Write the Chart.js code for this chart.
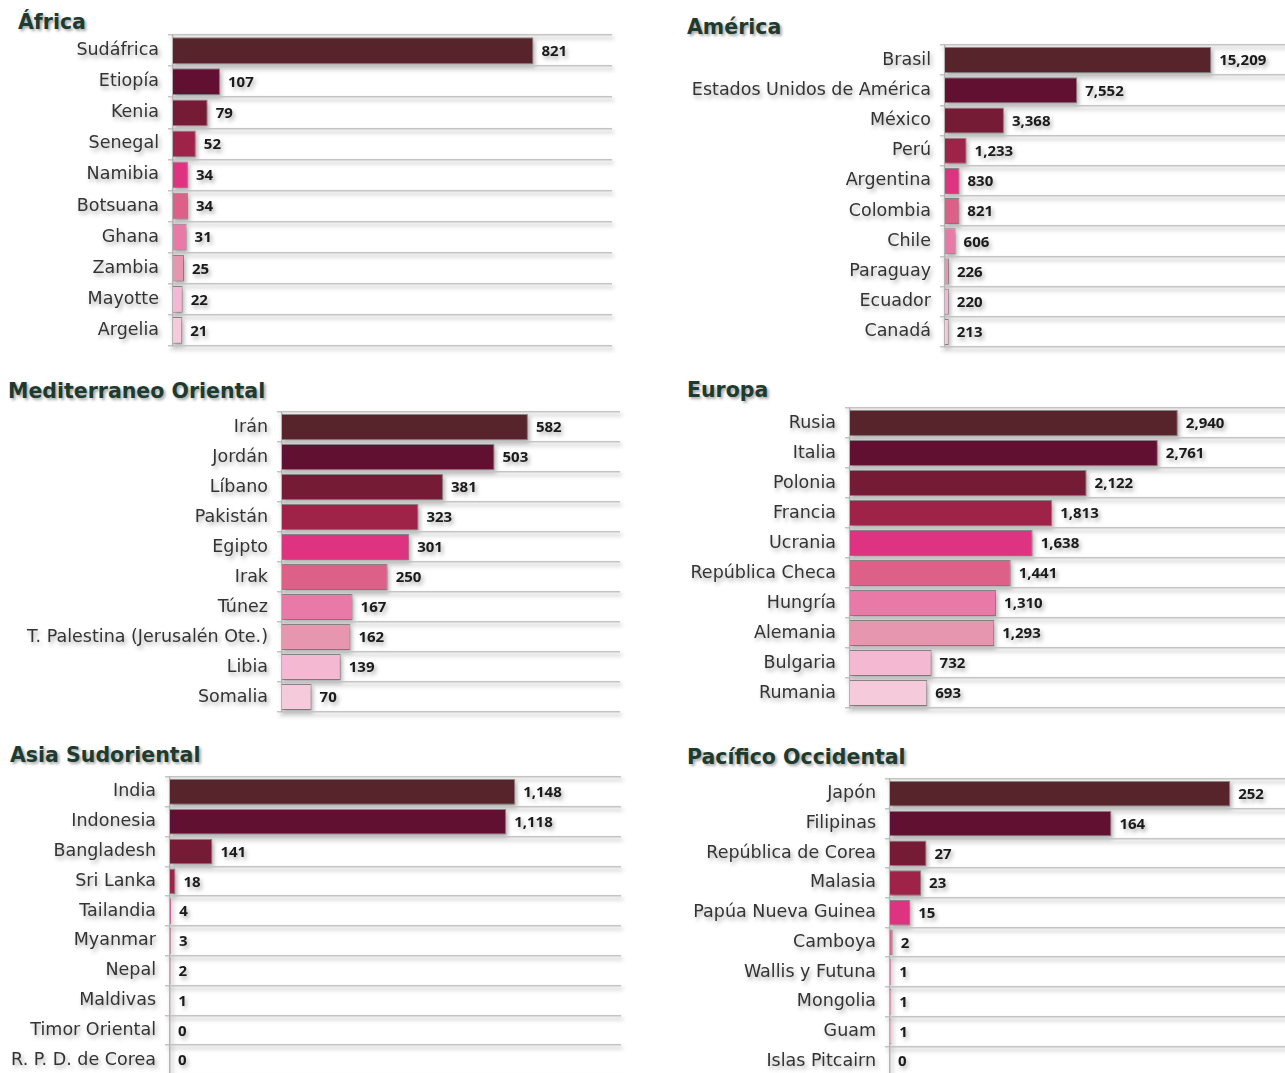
<!DOCTYPE html>
<html>
<head>
<meta charset="utf-8">
<script src="https://cdn.jsdelivr.net/npm/chart.js@4/dist/chart.umd.min.js"></script>
<style>
html,body{margin:0;padding:0;background:#fff;width:1285px;height:1073px;overflow:hidden;position:relative}
.ttl{position:absolute;font:bold 20.5px "DejaVu Sans";color:#1d3b2f;text-shadow:2px 2px 3px rgba(0,0,0,.35);white-space:nowrap;line-height:26px}
canvas{position:absolute;filter:drop-shadow(2px 3px 2px rgba(0,0,0,.32))}
</style>
</head>
<body>
<script>
// casos por región
const africaPaises = ['Sudáfrica','Etiopía','Kenia','Senegal','Namibia','Botsuana','Ghana','Zambia','Mayotte','Argelia'];
const africaCasos = [821,107,79,52,34,34,31,25,22,21];

const americaPaises = ['Brasil','Estados Unidos de América','México','Perú','Argentina','Colombia','Chile','Paraguay','Ecuador','Canadá'];
const americaCasos = [15209,7552,3368,1233,830,821,606,226,220,213];

const medPaises = ['Irán','Jordán','Líbano','Pakistán','Egipto','Irak','Túnez','T. Palestina (Jerusalén Ote.)','Libia','Somalia'];
const medCasos = [582,503,381,323,301,250,167,162,139,70];

const europaPaises = ['Rusia','Italia','Polonia','Francia','Ucrania','República Checa','Hungría','Alemania','Bulgaria','Rumania'];
const europaCasos = [2940,2761,2122,1813,1638,1441,1310,1293,732,693];

const asiaPaises = ['India','Indonesia','Bangladesh','Sri Lanka','Tailandia','Myanmar','Nepal','Maldivas','Timor Oriental','R. P. D. de Corea'];
const asiaCasos = [1148,1118,141,18,4,3,2,1,0,0];

const pacificoPaises = ['Japón','Filipinas','República de Corea','Malasia','Papúa Nueva Guinea','Camboya','Wallis y Futuna','Mongolia','Guam','Islas Pitcairn'];
const pacificoCasos = [252,164,27,23,15,2,1,1,1,0];

const colores = ['#57242b','#611032','#761b36','#9f2249','#de3380','#dd6089','#e97aa7','#e796b0','#f4b8d3','#f5cadb'];

// posición de cada panel en la página
const paneles = [
  {titulo:'África', paises:africaPaises, casos:africaCasos, max:1000, x:0, y:30, w:620, h:322, eje:173, pad:{top:5,bottom:6,right:8}, tx:18, ty:9},
  {titulo:'América', paises:americaPaises, casos:americaCasos, max:20000, x:680, y:40, w:620, h:312, eje:265, pad:{top:5,bottom:5,right:5}, tx:687, ty:14},
  {titulo:'Mediterraneo Oriental', paises:medPaises, casos:medCasos, max:800, x:0, y:407, w:630, h:310, eje:282, pad:{top:5,bottom:5,right:10}, tx:8, ty:378},
  {titulo:'Europa', paises:europaPaises, casos:europaCasos, max:4000, x:680, y:403, w:620, h:310, eje:170, pad:{top:5,bottom:5,right:4}, tx:687, ty:377},
  {titulo:'Asia Sudoriental', paises:asiaPaises, casos:asiaCasos, max:1500, x:0, y:772, w:630, h:308, eje:170, pad:{top:5,bottom:5,right:9}, tx:10, ty:742},
  {titulo:'Pacífico Occidental', paises:pacificoPaises, casos:pacificoCasos, max:300, x:680, y:774, w:620, h:307, eje:210, pad:{top:5,bottom:5,right:5}, tx:687, ty:744}
];

// cifra al final de cada barra
const etiquetas = {
  id: 'etiquetas',
  afterDatasetsDraw(chart) {
    const ctx = chart.ctx;
    const vals = chart.data.datasets[0].data;
    ctx.save();
    ctx.font = 'bold 15px "Open Sans"';
    ctx.fillStyle = '#1a1a1a';
    ctx.textBaseline = 'middle';
    chart.getDatasetMeta(0).data.forEach((bar, i) => {
      ctx.fillText(vals[i].toLocaleString('en-US'), bar.x + 8, bar.y + 1);
    });
    ctx.restore();
  }
};

paneles.forEach(p => {
  const t = document.createElement('div');
  t.className = 'ttl';
  t.textContent = p.titulo;
  t.style.left = p.tx + 'px';
  t.style.top = p.ty + 'px';
  document.body.appendChild(t);

  const c = document.createElement('canvas');
  c.width = p.w; c.height = p.h;
  c.style.left = p.x + 'px';
  c.style.top = p.y + 'px';
  document.body.appendChild(c);

  new Chart(c, {
    type: 'bar',
    data: {
      labels: p.paises,
      datasets: [{
        data: p.casos,
        backgroundColor: colores,
        borderColor: 'rgba(105,95,100,0.7)',
        borderWidth: 1,
        categoryPercentage: 0.86,
        barPercentage: 1
      }]
    },
    options: {
      indexAxis: 'y',
      responsive: false,
      animation: false,
      layout: { padding: { left: 0, top: p.pad.top, bottom: p.pad.bottom, right: p.pad.right } },
      plugins: { legend: { display: false }, tooltip: { enabled: false } },
      scales: {
        x: { display: false, min: 0, max: p.max },
        y: {
          afterFit(s) { s.width = p.eje; s.paddingTop = 0; s.paddingBottom = 0; },
          grid: { offset: true, color: '#c4c4c4', lineWidth: 1.5, tickLength: 5 },
          border: { color: '#b9b1b4', width: 1.5 },
          ticks: { font: { family: 'DejaVu Sans', size: 17.5 }, color: '#333', padding: 9, autoSkip: false }
        }
      }
    },
    plugins: [etiquetas]
  });
});
</script>
</body>
</html>
